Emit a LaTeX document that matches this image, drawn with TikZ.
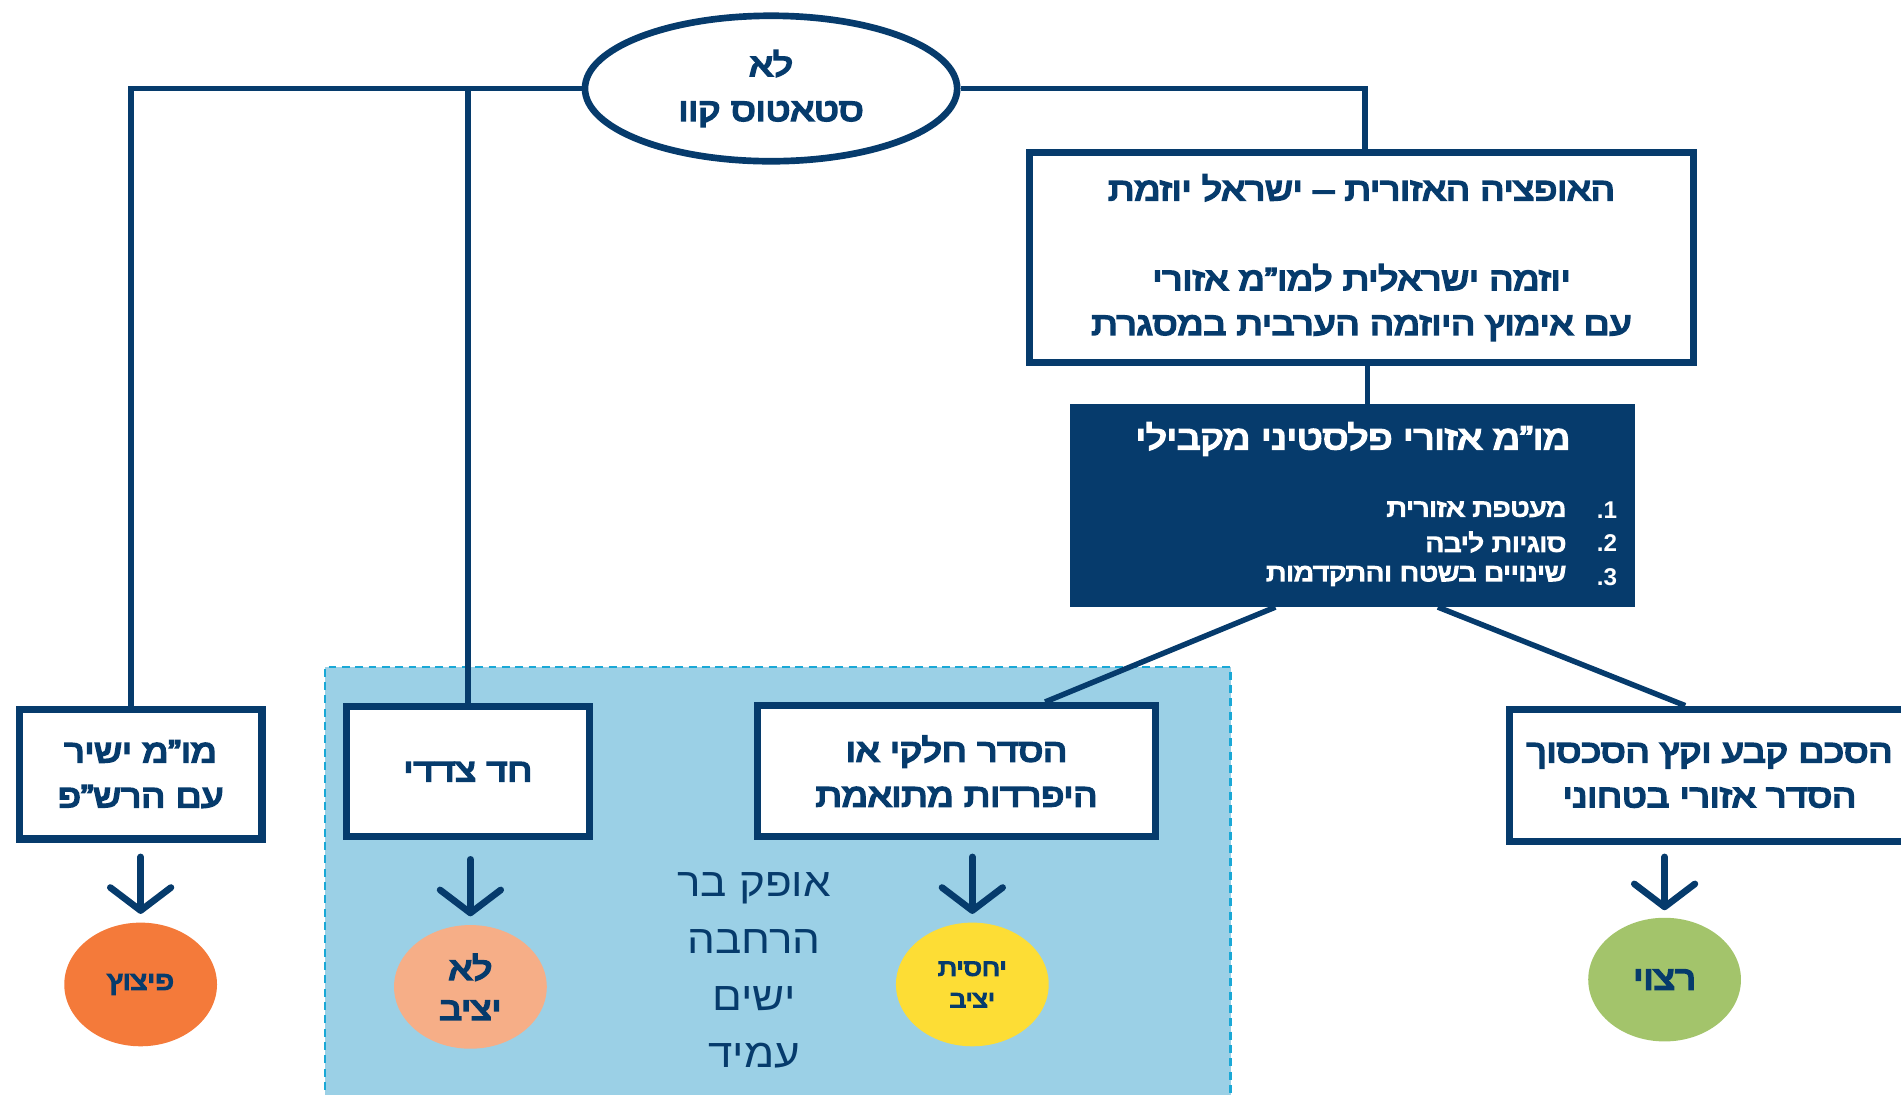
\documentclass[tikz,border=0pt]{standalone}
\usepackage{fontspec}
\setmainfont{Liberation Sans}
\newfontfamily\hb[Script=Hebrew, FakeBold=6, FakeStretch=1.2]{Liberation Sans}
\newfontfamily\hr[Script=Hebrew, FakeStretch=1.1]{Liberation Sans}
\TeXXeTstate=1
\usetikzlibrary{shapes.geometric,arrows.meta,calc}
\definecolor{navy}{HTML}{063B6C}
\definecolor{regionfill}{HTML}{9BD0E6}
\definecolor{regionline}{HTML}{1AA8D6}
\definecolor{cOrange}{HTML}{F47A3A}
\definecolor{cSalmon}{HTML}{F6AE87}
\definecolor{cYellow}{HTML}{FDDD35}
\definecolor{cGreen}{HTML}{A3C46B}
\newcommand\rtl[1]{\beginR #1\endR}
\newcommand\fsz[2]{\fontsize{#1}{#2}\selectfont}
\begin{document}
\begin{tikzpicture}[x=1pt,y=-1pt,
  box/.style={draw=navy, line width=6pt, fill=white, align=center, text=navy,
    font=\hb\fsz{26}{37}, inner sep=0pt},
  conn/.style={draw=navy, line width=4.5pt},
  arr/.style={draw=navy, line width=5.5pt, line cap=round,
    -{Straight Barb[length=19pt, width=50pt, line cap=round, line join=round]}},
  res/.style={ellipse, minimum width=126pt, minimum height=102pt, inner sep=0pt,
    align=center, text=navy},
  listtxt/.style={text=white, font=\hb\fsz{20}{22}, inner sep=0pt, anchor=east},
  listnum/.style={text=white, font=\bfseries\fsz{20}{22}, inner sep=0pt, anchor=east}
]
\useasboundingbox (0,0) rectangle (1568,903);
% shaded region
\fill[regionfill] (268,550) rectangle (1015,910);
\draw[regionline, line width=1.8pt, dash pattern=on 6.5pt off 4.5pt]
  (268,910) -- (268,550) -- (1015,550) -- (1015,910);

% top ellipse
\node[ellipse, draw=navy, line width=5.5pt, fill=white, minimum width=307pt,
  minimum height=120pt, inner sep=0pt, align=center, text=navy,
  font=\hb\fsz{26}{37}] (ell) at (636,73)
  {\rtl{לא}\\\rtl{סטאטוס קוו}};

% boxes
\node[box, minimum width=548pt, minimum height=173pt] (top) at (1123,212.5)
  {\rtl{האופציה האזורית – ישראל יוזמת}\\\mbox{}\\\rtl{יוזמה ישראלית למו”מ אזורי}\\\rtl{עם אימוץ היוזמה הערבית במסגרת}};
\node[draw=navy, fill=navy, line width=1.5pt, minimum width=465pt,
  minimum height=166pt, inner sep=0pt] (dark) at (1115.5,417) {};
\node[box, minimum width=200pt, minimum height=107pt] (box1) at (116,638.5)
  {\rtl{מו”מ ישיר}\\\rtl{עם הרש”פ}};
\node[box, minimum width=200pt, minimum height=107pt] (box2) at (386,636.5)
  {\rtl{חד צדדי}};
\node[box, minimum width=328pt, minimum height=108pt] (box3) at (789,636)
  {\rtl{הסדר חלקי או}\\\rtl{היפרדות מתואמת}};
\node[box, minimum width=330pt, minimum height=109pt] (box4) at (1410,639.5)
  {\rtl{הסכם קבע וקץ הסכסוך}\\\rtl{הסדר אזורי בטחוני}};

% connectors
\coordinate (jL) at (108,73);
\coordinate (jM) at (386,73);
\coordinate (jR) at (1126,73);
\coordinate (tb) at ($(top.south)+(5,0)$);
\coordinate (ds3) at ($(dark.south)+(-63.5,0)$);
\coordinate (ds4) at ($(dark.south)+(70.5,0)$);
\coordinate (b3n) at ($(box3.north)+(73,0)$);
\coordinate (b4n) at ($(box4.north)+(-20,0)$);
\draw[conn] (ell.west) -- (jL) -- (jL |- box1.north);
\draw[conn] (jM) -- (jM |- box2.north);
\draw[conn] (ell.east) -- (jR) -- (jR |- top.north);
\draw[conn] (tb) -- (tb |- dark.north);
\draw[conn] (ds3) -- (b3n);
\draw[conn] (ds4) -- (b4n);

% redraw box borders above connector ends
\node[box, minimum width=548pt, minimum height=173pt, fill=none] at (top) {};
\node[box, minimum width=200pt, minimum height=107pt, fill=none] at (box1) {};
\node[box, minimum width=200pt, minimum height=107pt, fill=none] at (box2) {};
\node[box, minimum width=328pt, minimum height=108pt, fill=none] at (box3) {};
\node[box, minimum width=330pt, minimum height=109pt, fill=none] at (box4) {};

% dark box content
\node[text=white, font=\hb\fsz{27}{30}, inner sep=0pt] (dtitle) at (1116,362)
  {\rtl{מו”מ אזורי פלסטיני מקבילי}};
\node[listnum] (n1) at (1334,421) {.1};
\node[listnum] (n2) at (1334,448) {.2};
\node[listnum] (n3) at (1334,476) {.3};
\node[listtxt] (t1) at (1292,420) {\rtl{מעטפת אזורית}};
\node[listtxt] (t2) at (1292,447) {\rtl{סוגיות ליבה}};
\node[listtxt] (t3) at (1292,475) {\rtl{שינויים בשטח והתקדמות}};

% result circles
\node[res, fill=cOrange, font=\hb\fsz{21}{24}] (c1) at (116,812) {\rtl{פיצוץ}};
\node[res, fill=cSalmon, font=\hb\fsz{26}{33}] (c2) at (388,814) {\rtl{לא}\\\rtl{יציב}};
\node[res, fill=cYellow, font=\hb\fsz{19}{26}] (c3) at (802,812) {\rtl{יחסית}\\\rtl{יציב}};
\node[res, fill=cGreen, font=\hb\fsz{27}{32}] (c4) at (1373,808) {\rtl{רצוי}};

% arrows
\draw[arr] ($(c1.north)+(0,-54)$) -- ($(c1.north)+(0,-7)$);
\draw[arr] ($(c2.north)+(0,-54)$) -- ($(c2.north)+(0,-7)$);
\draw[arr] ($(c3.north)+(0,-54)$) -- ($(c3.north)+(0,-7)$);
\draw[arr] ($(c4.north)+(0,-50)$) -- ($(c4.north)+(0,-6)$);

% free text
\node[align=center, text=navy, font=\hr\fsz{33}{47}, inner sep=0pt] (horizon) at (622,800)
  {\rtl{אופק בר}\\\rtl{הרחבה}\\\rtl{ישים}\\\rtl{עמיד}};
\end{tikzpicture}
\end{document}
